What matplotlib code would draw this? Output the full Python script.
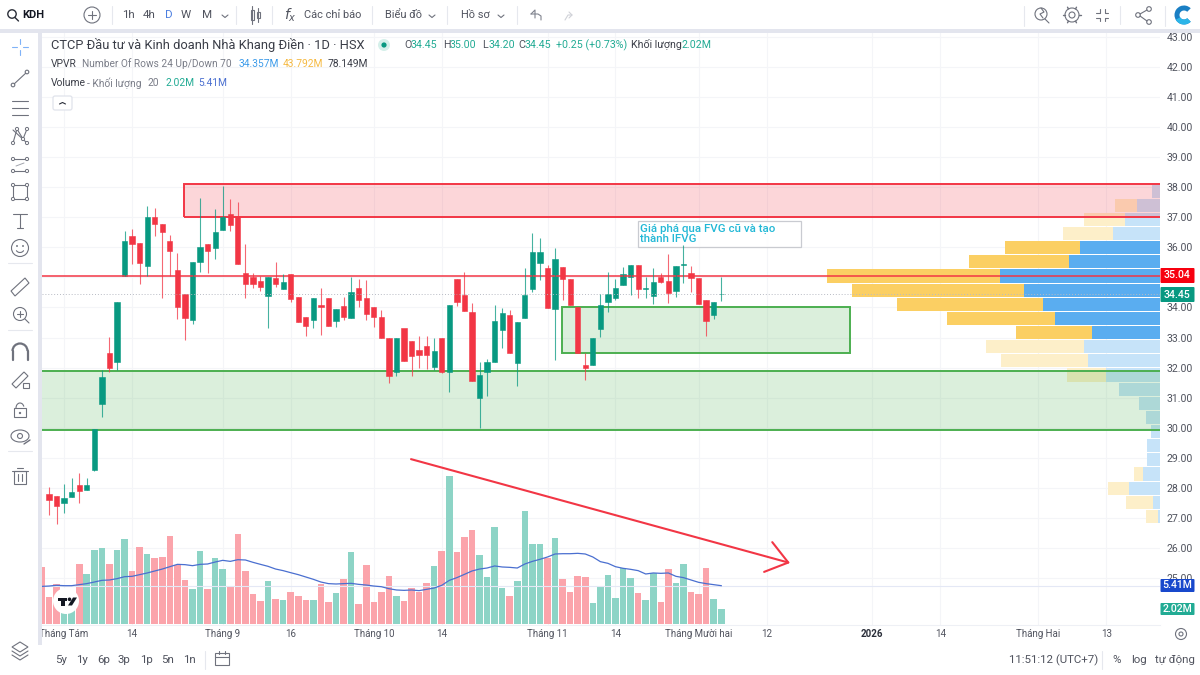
import matplotlib
matplotlib.use('Agg')
from matplotlib import pyplot as plt
from matplotlib.patches import Rectangle, Circle, FancyBboxPatch, Polygon, Wedge, Arc
import numpy as np

plt.rcParams['font.family'] = ['Roboto', 'DejaVu Sans']

# daily candles
opens = [27.79, 27.73, 27.50, 27.69, 28.09, 27.93, 28.60, 30.79, 32.50, 32.18,
         35.05, 36.36, 36.15, 35.39, 37.00, 36.78, 36.22, 35.24, 34.45, 33.58,
         35.50, 36.11, 35.98, 36.58, 37.10, 36.99, 35.14, 35.00, 34.89, 34.39,
         34.99, 34.60, 35.10, 34.34, 33.69, 33.58, 34.09, 34.30, 33.55, 34.05,
         33.65, 34.65, 34.30, 34.00, 33.69, 33.00, 31.85, 33.30, 32.90, 32.58,
         32.73, 32.03, 33.00, 31.86, 34.94, 34.40, 33.84, 30.98, 31.86, 32.18,
         33.25, 33.76, 32.17, 33.64, 34.60, 35.49, 35.30, 33.94, 35.35, 34.94,
         34.00, 32.09, 32.09, 33.29, 34.19, 34.30, 34.73, 35.00, 35.41, 34.62,
         34.39, 35.00, 34.89, 34.55, 35.40, 35.15, 34.99, 34.25, 33.75, 34.45]
highs = [28.04, 27.73, 28.13, 28.35, 28.49, 28.35, 29.95, 31.92, 33.03, 34.19,
         36.54, 36.59, 36.15, 37.38, 37.31, 36.78, 36.41, 35.80, 34.45, 35.50,
         37.62, 36.11, 37.26, 38.04, 37.59, 37.49, 36.11, 35.13, 35.04, 35.00,
         35.50, 35.10, 35.10, 34.36, 33.69, 34.30, 34.63, 34.30, 33.94, 34.34,
         35.00, 34.93, 34.91, 34.00, 33.90, 33.00, 33.00, 33.30, 32.90, 33.05,
         33.05, 33.00, 33.00, 34.09, 34.94, 35.19, 34.14, 32.20, 32.30, 34.09,
         33.97, 33.91, 33.50, 35.30, 36.46, 36.30, 35.40, 35.96, 35.35, 34.94,
         34.00, 32.47, 33.00, 34.45, 35.19, 34.96, 35.35, 35.41, 35.41, 35.02,
         35.30, 35.13, 35.76, 35.39, 36.07, 35.37, 34.99, 34.25, 34.19, 35.00]
lows = [27.10, 26.80, 27.16, 27.69, 27.51, 27.93, 28.55, 30.37, 31.85, 31.92,
        35.05, 35.44, 34.77, 35.05, 36.38, 34.30, 35.05, 33.60, 32.92, 33.45,
        35.17, 35.13, 35.61, 36.58, 36.55, 35.43, 34.30, 34.63, 34.53, 33.33,
        34.69, 34.60, 34.19, 33.50, 33.06, 33.33, 33.10, 33.39, 33.36, 33.58,
        33.65, 34.03, 33.58, 33.34, 32.99, 31.48, 31.72, 32.23, 31.72, 32.00,
        31.94, 31.92, 31.83, 31.20, 34.05, 33.89, 31.54, 30.00, 31.07, 32.18,
        32.64, 32.47, 31.40, 33.64, 34.52, 34.91, 33.99, 32.25, 34.25, 34.07,
        32.47, 31.59, 32.09, 33.03, 33.86, 34.25, 34.73, 34.41, 34.30, 34.30,
        34.10, 34.80, 34.14, 34.36, 34.80, 34.52, 34.13, 33.06, 33.60, 34.20]
closes = [27.60, 27.40, 27.68, 27.88, 27.90, 28.09, 29.95, 31.70, 31.98, 34.19,
          36.22, 36.10, 35.49, 37.00, 36.78, 36.49, 35.89, 34.00, 33.64, 35.50,
          36.00, 35.89, 36.49, 36.99, 36.74, 35.43, 34.79, 34.79, 34.67, 35.00,
          34.78, 34.86, 34.28, 33.50, 33.39, 34.30, 34.00, 33.39, 33.94, 33.68,
          34.50, 34.25, 33.78, 33.68, 32.99, 31.73, 33.00, 32.23, 32.40, 32.43,
          32.43, 32.55, 31.86, 34.09, 34.19, 33.89, 31.54, 31.74, 32.20, 33.55,
          33.80, 32.47, 33.50, 34.40, 35.85, 35.85, 33.99, 35.60, 34.93, 34.07,
          32.47, 31.98, 33.00, 34.08, 34.45, 34.64, 35.10, 35.41, 34.60, 34.66,
          34.85, 34.85, 34.49, 35.39, 35.43, 34.99, 34.13, 33.55, 34.19, 34.45]

# volume in millions, and its 20 day average
volumes = [3.74, 5.43, 3.50, 3.50, 8.20, 6.85, 10.10, 10.40, 8.20, 10.20,
           11.60, 7.20, 10.60, 9.60, 9.04, 9.13, 12.10, 8.08, 6.03, 4.84,
           9.95, 4.84, 9.04, 7.49, 5.11, 12.30, 7.20, 4.11, 3.20, 5.94,
           3.38, 3.29, 4.34, 3.88, 3.29, 3.29, 5.48, 2.97, 4.25, 6.12,
           9.82, 2.74, 8.08, 3.01, 4.34, 6.62, 3.88, 3.10, 4.89, 4.43,
           5.66, 7.95, 10.00, 20.27, 9.90, 11.96, 12.88, 9.45, 6.48, 13.33,
           4.98, 3.88, 5.89, 15.50, 11.00, 11.00, 9.00, 11.78, 6.21, 4.43,
           6.58, 6.48, 2.92, 5.02, 6.71, 3.52, 7.72, 6.30, 4.20, 3.29,
           7.03, 3.01, 7.58, 5.66, 8.22, 4.38, 4.06, 7.63, 3.38, 2.02]
volume_ma = [5.20, 5.30, 5.25, 5.25, 5.39, 5.53, 5.75, 5.98, 6.03, 6.21,
             6.48, 6.53, 6.76, 6.99, 7.26, 7.53, 7.85, 8.17, 8.13, 7.99,
             8.17, 8.22, 8.49, 8.72, 8.58, 8.81, 8.77, 8.45, 8.17, 7.90,
             7.53, 7.31, 7.03, 6.76, 6.44, 6.12, 5.75, 5.53, 5.48, 5.53,
             5.57, 5.43, 5.34, 5.20, 5.11, 4.84, 4.66, 4.61, 4.66, 4.57,
             4.75, 4.93, 5.30, 5.98, 6.35, 6.80, 7.26, 7.53, 7.67, 7.95,
             7.81, 7.76, 7.67, 8.22, 8.58, 8.86, 9.18, 9.59, 9.63, 9.63,
             9.68, 9.59, 9.18, 8.54, 8.31, 7.85, 7.63, 7.49, 7.31, 6.85,
             6.99, 6.94, 6.99, 6.53, 6.35, 6.03, 5.71, 5.53, 5.39, 5.25]
# the session just left of the first candle, only its volume shows
prior_volume = 7.85
prior_ma = 5.15

# volume profile rows, top row first, in millions
vp_up = [0.26, 0.71, 1.10, 1.46, 2.50, 2.84, 5.01, 4.26, 3.66, 3.29, 2.12, 2.38,
         2.26, 1.69, 1.28, 0.65, 0.44, 0.29, 0.41, 0.41, 0.52, 0.96, 0.21, 0.05]
vp_down = [0.0, 0.70, 1.27, 1.59, 2.35, 3.13, 5.41, 5.39, 4.56, 3.37, 2.39, 3.07,
           2.71, 1.23, 0.0, 0.0, 0.0, 0.0, 0.0, 0.0, 0.29, 0.68, 0.85, 0.40]
vp_value_area = [4, 5, 6, 7, 8, 9, 10]
vp_top = 38.10
vp_row = 0.47

price_ticks = [43, 42, 41, 40, 39, 38, 37, 36, 35, 34, 33, 32, 31, 30, 29, 28, 27, 26, 25]
time_ticks = [2, 11, 23, 32, 43, 52, 66, 75, 86, 95, 109, 118, 131, 140]
time_labels = ['Tháng Tám', '14', 'Tháng 9', '16', 'Tháng 10', '14', 'Tháng 11', '14',
               'Tháng Mười hai', '12', '2026', '14', 'Tháng Hai', '13']

GREEN = '#089981'
RED = '#F23645'
TEAL_TXT = '#22AB94'
GREY = '#50535E'
ICON = '#6F727D'
BAND = '#E3E5EE'


def fs(px):
    return px * 0.72


# chart area in pixels: x 42..1160, y 32..625
rect = [42 / 1200, 1 - 625 / 675, 1118 / 1200, 593 / 675]
fig = plt.figure(figsize=(12, 6.75), dpi=100, facecolor='white')

ax = fig.add_axes(rect, zorder=0)
ax.set_xlim(-0.927, 147.09)
ax.set_ylim(23.45, 43.15)
ax.yaxis.tick_right()
ax.set_yticks(price_ticks)
# the 35.00 label sits under the last-line tag in the picture
ax.set_yticklabels(['' if p == 35 else '%.2f' % p for p in price_ticks], fontsize=fs(10.5), color=GREY)
ax.set_xticks(time_ticks)
ax.set_xticklabels(time_labels, fontsize=fs(9.8), color=GREY)
ax.get_xticklabels()[10].set_fontweight('bold')
ax.get_xticklabels()[10].set_color('#2A2E39')
ax.tick_params(length=0)
ax.tick_params(axis='y', pad=5)
ax.tick_params(axis='x', pad=3)
ax.grid(True, color='#F4F5F8', lw=0.8)
for s in ['top', 'left', 'right']:
    ax.spines[s].set_visible(False)
ax.spines['bottom'].set_color('#EEF0F5')

# volume profile
ax_vp = fig.add_axes(rect, zorder=1)
ax_vp.set_xlim(35.0, 0)
ax_vp.set_ylim(23.45, 43.15)
ax_vp.axis('off')
row_y = [vp_top - vp_row * (r + 0.5) for r in range(len(vp_up))]
c_up = ['#5AADF0' if r in vp_value_area else '#C6E3F9' for r in range(len(vp_up))]
c_down = ['#FBCF63' if r in vp_value_area else '#FDEFC9' for r in range(len(vp_up))]
ax_vp.barh(row_y, vp_up, height=vp_row * 0.93, color=c_up)
ax_vp.barh(row_y, vp_down, left=vp_up, height=vp_row * 0.93, color=c_down)

# volume pane
ax_vol = fig.add_axes(rect, zorder=2)
ax_vol.set_xlim(-0.927, 147.09)
ax_vol.set_ylim(-1 / 7.3, 592 / 7.3)
ax_vol.axis('off')
idx = np.arange(len(closes))
vol_colors = ['#8DD4C6' if c >= o else '#FBA4AB' for o, c in zip(opens, closes)]
ax_vol.bar(-1, prior_volume, width=0.87, color='#FBA4AB', lw=0)
ax_vol.bar(idx, volumes, width=0.87, color=vol_colors, lw=0)
ax_vol.axhline(volume_ma[-1], color='#E4E8F5', lw=0.8)
ax_vol.plot(np.r_[-1, idx], [prior_ma] + volume_ma, color='#4A6FD0', lw=0.9)

# price pane: drawings then candles
ax_px = fig.add_axes(rect, zorder=3)
ax_px.set_xlim(-0.927, 147.09)
ax_px.set_ylim(23.45, 43.15)
ax_px.axis('off')

ax_px.add_patch(Rectangle((17.9, 37.0), 140, 1.1, fc=RED, alpha=0.2, lw=0))
ax_px.add_patch(Rectangle((17.9, 37.0), 140, 1.1, fc='none', ec=RED, lw=1.4))
ax_px.add_patch(Rectangle((-5, 29.92), 160, 1.96, fc='#4CAF50', alpha=0.2, lw=0))
ax_px.add_patch(Rectangle((-5, 29.92), 160, 1.96, fc='none', ec='#4CAF50', lw=1.4))
ax_px.add_patch(Rectangle((67.96, 32.48), 38.09, 1.53, fc='#4CAF50', alpha=0.2, lw=0))
ax_px.add_patch(Rectangle((67.96, 32.48), 38.09, 1.53, fc='none', ec='#4CAF50', lw=1.4))

ax_px.axhline(35.04, color=RED, lw=1.1)
ax_px.axhline(closes[-1], color='#B8BBC4', lw=0.7, ls=(0, (1, 2)))

candle_colors = [GREEN if c >= o else RED for o, c in zip(opens, closes)]
ax_px.vlines(idx, lows, highs, colors=candle_colors, lw=0.8, alpha=0.75)
ax_px.bar(idx, np.abs(np.array(closes) - np.array(opens)), bottom=np.minimum(opens, closes),
          width=0.7, color=candle_colors, edgecolor=candle_colors, lw=0.4)

ax_px.annotate('', xy=(98.1, 25.51), xytext=(47.93, 28.96),
               arrowprops=dict(arrowstyle='->,head_length=0.5,head_width=0.37', color=RED, lw=1.5,
                               mutation_scale=30, shrinkA=0, shrinkB=0))
ax_px.add_patch(Rectangle((78.0, 36.0), 21.6, 0.87, fc='white', ec='#C4C6CC', lw=0.9, alpha=0.9))
ax_px.text(78.3, 36.44, 'Giá phá qua FVG cũ và tạo\nthành IFVG', color='#22B8D6',
           fontsize=fs(11.5), fontweight='medium', va='center', ha='left', linespacing=0.98)

# interface chrome, in pixel coordinates
ui = fig.add_axes([0, 0, 1, 1], zorder=10)
ui.set_xlim(0, 1200)
ui.set_ylim(675, 0)
ui.axis('off')
ui.patch.set_alpha(0)


def box(x0, y0, x1, y1, color, z=1):
    ui.add_patch(Rectangle((x0, y0), x1 - x0, y1 - y0, fc=color, lw=0, zorder=z))


def label(x, y, s, color=GREY, px=11.5, ha='left', weight='normal'):
    ui.text(x, y, s, color=color, fontsize=fs(px), ha=ha, va='center', fontweight=weight, zorder=5)


def stroke(xs, ys, color=ICON, lw=0.8):
    ui.plot(xs, ys, color=color, lw=lw, zorder=5, solid_capstyle='round')


def ring(x, y, r, color=ICON, lw=0.8, fc='none'):
    ui.add_patch(Circle((x, y), r, fc=fc, ec=color, lw=lw, zorder=5))


def chevron(x, y, up=False, color=ICON):
    d = -2 if up else 2
    stroke([x - 3, x, x + 3], [y - d / 2, y + d / 2 + 0.5, y - d / 2], color)


def sep_v(x, y0, y1):
    stroke([x, x], [y0, y1], '#E6E8EE', 0.8)


def sep_h(x0, x1, y):
    stroke([x0, x1], [y, y], '#E6E8EE', 0.8)


box(0, 0, 1200, 29, 'white')
box(0, 29, 1200, 33, BAND, 2)
box(0, 33, 38, 675, 'white')
box(38, 33, 42, 645, BAND, 2)
box(0, 645, 1200, 675, 'white')

# top bar
ring(12, 14, 4.2, '#2A2E39', 1.0)
stroke([15, 18.5], [17.5, 21], '#2A2E39', 1.0)
label(22, 15, 'KDH', '#131722', 11, weight='bold')
ring(92, 15, 8)
stroke([88, 96], [15, 15])
stroke([92, 92], [11, 19])
sep_v(112, 6, 24)
for x, s, c in [(122, '1h', GREY), (143, '4h', GREY), (165, 'D', '#4C7FE0'), (181, 'W', GREY), (202, 'M', GREY)]:
    label(x, 15, s, c, 11.5)
chevron(225, 16)
sep_v(236, 6, 24)
ui.add_patch(Rectangle((250.5, 10), 3, 10, fc='none', ec=ICON, lw=0.8, zorder=5))
stroke([252, 252], [6, 24])
ui.add_patch(Rectangle((256.5, 12), 3, 6, fc='none', ec=ICON, lw=0.8, zorder=5))
stroke([258, 258], [8, 22])
sep_v(272, 6, 24)
ui.text(290, 15, '$f_x$', fontsize=fs(14), color=GREY, ha='center', va='center', zorder=5)
label(304, 15, 'Các chỉ báo', GREY, 11)
sep_v(372, 6, 24)
label(385, 15, 'Biểu đồ', GREY, 11)
chevron(432, 16)
sep_v(447, 6, 24)
label(461, 15, 'Hồ sơ', GREY, 11)
chevron(501, 16)
sep_v(517, 6, 24)
stroke([531, 535, 535], [14, 10, 18], '#80838E')
stroke([531, 538, 541, 541], [14, 14, 16, 20], '#80838E')
stroke([565, 568, 572], [20, 15, 15], '#D0D2D8')
stroke([569, 572, 569], [12, 15, 18], '#D0D2D8')

sep_v(1024, 6, 26)
ring(1041, 14, 6)
stroke([1045, 1049], [19, 23])
stroke([1041, 1044, 1040, 1043], [8, 12, 14, 18], ICON)
ring(1072, 15, 3)
ring(1072, 15, 7)
for a in np.arange(0, 360, 60):
    ca, sa = np.cos(np.radians(a)), np.sin(np.radians(a))
    stroke([1072 + 7 * ca, 1072 + 9 * ca], [15 + 7 * sa, 15 + 9 * sa], ICON, 1.0)
for sx, sy in [(-1, -1), (1, -1), (-1, 1), (1, 1)]:
    stroke([1102 + sx * 2.5, 1102 + sx * 2.5, 1102 + sx * 6], [15 + sy * 6, 15 + sy * 2.5, 15 + sy * 2.5])
sep_v(1120, 6, 24)
ring(1149, 9, 2.3)
ring(1138, 15, 2.3)
ring(1149, 22, 2.3)
stroke([1140, 1147], [14, 10])
stroke([1140, 1147], [16, 21])
sep_v(1165, 6, 26)
ui.add_patch(Wedge((1184, 15), 9.5, 45, 315, width=5, fc='#1A7FC4', lw=0, zorder=5))
ui.add_patch(Wedge((1184, 15), 9.5, 45, 150, width=5, fc='#2CB5E8', lw=0, zorder=6))

# legend rows
label(51, 45, 'CTCP Đầu tư và Kinh doanh Nhà Khang Điền · 1D · HSX', '#3A3D47', 12.9)
ring(384, 45, 6, '#D5F0EA', 0, '#D5F0EA')
ring(384, 45, 2.6, GREEN, 0, GREEN)
for x, k, v in [(404, 'O', '34.45'), (443, 'H', '35.00'), (482, 'L', '34.20'), (518, 'C', '34.45')]:
    label(x, 45, k, GREY, 10.6)
    label(x + 7, 45, v, TEAL_TXT, 10.6)
label(556, 45, '+0.25 (+0.73%)', TEAL_TXT, 10.6)
label(631, 45, 'Khối lượng', '#3A3D47', 10.6)
label(682, 45, '2.02M', TEAL_TXT, 10.6)

label(51, 64, 'VPVR', '#3A3D47', 10.3)
label(81.5, 64, 'Number Of Rows 24 Up/Down 70', '#7A7D88', 10.15)
label(239, 64, '34.357M', '#3D9BE9', 10.3)
label(283, 64, '43.792M', '#F5B942', 10.3)
label(328, 64, '78.149M', '#3A3D47', 10.3)

label(51, 83, 'Volume', '#3A3D47', 10.3)
label(87, 83, '- Khối lượng', '#7A7D88', 10.3)
label(147, 83, '20', '#7A7D88', 10.3)
label(165, 83, '2.02M', TEAL_TXT, 10.3)
label(198, 83, '5.41M', '#4A6FD0', 10.3)
ui.add_patch(FancyBboxPatch((53, 96), 19, 14, boxstyle='round,pad=0,rounding_size=2', fc='white',
                            ec='#E0E3EB', lw=0.9, zorder=5))
chevron(62.5, 103, up=True, color='#2A2E39')

# left tool bar
stroke([20, 20], [39, 44], '#7FB2F8')
stroke([20, 20], [50, 55], '#7FB2F8')
stroke([12, 17], [47, 47], '#7FB2F8')
stroke([23, 28], [47, 47], '#7FB2F8')
ring(13, 85, 1.8)
ring(27, 72, 1.8)
stroke([14.3, 25.7], [83.8, 73.2])
for y in [101, 108, 115]:
    stroke([12, 28], [y, y])
for p, q in [((13, 143), (17, 129)), ((17, 129), (23, 139)), ((23, 139), (27, 129)), ((13, 130), (27, 143))]:
    stroke([p[0], q[0]], [p[1], q[1]])
for x, y in [(13, 143), (17, 129), (23, 139), (27, 129), (27, 143)]:
    ring(x, y, 1.6, ICON, 0.7, 'white')
for y in [159, 171]:
    stroke([12, 28], [y, y])
    ring(13, y, 1.6, ICON, 0.7, 'white')
    ring(27, y, 1.6, ICON, 0.7, 'white')
stroke([16, 24], [166, 163], '#A0A3AC', 0.7)
ui.add_patch(Rectangle((13, 185), 14, 14, fc='none', ec=ICON, lw=0.8, zorder=5))
for x, y in [(13, 185), (27, 185), (13, 199), (27, 199)]:
    ring(x, y, 1.6, ICON, 0.7, 'white')
stroke([13, 27], [214, 214])
stroke([20, 20], [214, 228])
stroke([17, 23], [228, 228])
ring(20, 248, 8.5)
ring(17, 246, 0.4)
ring(23, 246, 0.4)
ui.add_patch(Arc((20, 249), 8, 7, theta1=20, theta2=160, ec=ICON, lw=0.8, zorder=5))
sep_h(8, 32, 263)
ui.add_patch(Polygon([(11, 291), (25, 278), (29, 283), (15, 296)], closed=True, fc='none', ec=ICON, lw=0.8, zorder=5))
ring(20, 314, 6.5)
stroke([17, 23], [314, 314])
stroke([20, 20], [311, 317])
stroke([25, 29], [319, 323])
sep_h(8, 32, 330)
ui.add_patch(Arc((20, 351), 15, 15, theta1=180, theta2=360, ec=ICON, lw=1.6, zorder=5))
stroke([12.5, 12.5], [351, 360], ICON, 1.6)
stroke([27.5, 27.5], [351, 360], ICON, 1.6)
ui.add_patch(Polygon([(12, 384), (24, 372), (28, 376), (16, 388)], closed=True, fc='none', ec=ICON, lw=0.8, zorder=5))
ui.add_patch(Rectangle((23, 383), 6, 5, fc='white', ec=ICON, lw=0.8, zorder=6))
ui.add_patch(Rectangle((14, 408), 12, 9, fc='none', ec=ICON, lw=0.8, zorder=5))
ui.add_patch(Arc((20, 408), 8, 10, theta1=180, theta2=340, ec=ICON, lw=0.8, zorder=5))
ring(20, 413, 0.6)
ui.add_patch(Arc((20, 436), 18, 12, theta1=0, theta2=360, ec=ICON, lw=0.8, zorder=5))
ring(20, 436, 2.5)
stroke([24, 30], [444, 440], ICON, 1.0)
sep_h(8, 32, 451)
ui.add_patch(Rectangle((14, 471), 12, 13, fc='none', ec=ICON, lw=0.8, zorder=5))
stroke([12, 28], [471, 471])
stroke([17, 23], [468, 468])
stroke([18, 18], [474, 481])
stroke([22, 22], [474, 481])
ui.add_patch(Polygon([(20, 642), (28, 647), (20, 652), (12, 647)], closed=True, fc='white', ec=ICON, lw=0.8, zorder=5))
stroke([12, 20, 28], [651, 656, 651])
stroke([12, 20, 28], [655, 660, 655])

# logo over the chart
ring(66, 601, 13, 'white', 0, 'white')
ui.add_patch(Rectangle((58, 597.5), 9, 3.5, fc='#131722', lw=0, zorder=6))
ui.add_patch(Rectangle((61, 597.5), 3.5, 8, fc='#131722', lw=0, zorder=6))
ring(69.5, 599.3, 1.8, '#131722', 0, '#131722')
ui.add_patch(Polygon([(73, 597.5), (77, 597.5), (72, 605.5), (68, 605.5)], closed=True, fc='#131722', lw=0, zorder=6))

# price tags
for y0, y1, c, s in [(268, 283, '#F7000F', '35.04'), (287, 302, GREEN, '34.45'),
                     (579, 592, '#1848CC', '5.41M'), (603, 615, TEAL_TXT, '2.02M')]:
    ui.add_patch(FancyBboxPatch((1160.5, y0), 34, y1 - y0, boxstyle='round,pad=0,rounding_size=1',
                                fc=c, lw=0, zorder=5))
    ui.text(1177.5, (y0 + y1) / 2, s, color='white', fontsize=fs(10.5), ha='center', va='center',
            fontweight='medium', zorder=6)

# bottom bar
for x, s in [(55, '5y'), (76, '1y'), (97, '6p'), (118, '3p'), (140, '1p'), (161, '5n'), (183, '1n')]:
    label(x, 660, s, GREY, 11.5)
sep_v(205, 651, 669)
ui.add_patch(Rectangle((215, 653), 14, 12, fc='none', ec=ICON, lw=0.8, zorder=5))
stroke([215, 229], [657, 657])
stroke([219, 219], [651, 654])
stroke([225, 225], [651, 654])
label(1009, 660, '11:51:12 (UTC+7)', GREY, 11.5)
sep_v(1102, 651, 669)
label(1117, 660, '%', GREY, 11.5, ha='center')
label(1139, 660, 'log', GREY, 11.5, ha='center')
label(1175, 660, 'tự động', GREY, 11.5, ha='center')
ring(1181, 634, 5.5)
ring(1181, 634, 2)

plt.savefig('out.png', dpi=100)
